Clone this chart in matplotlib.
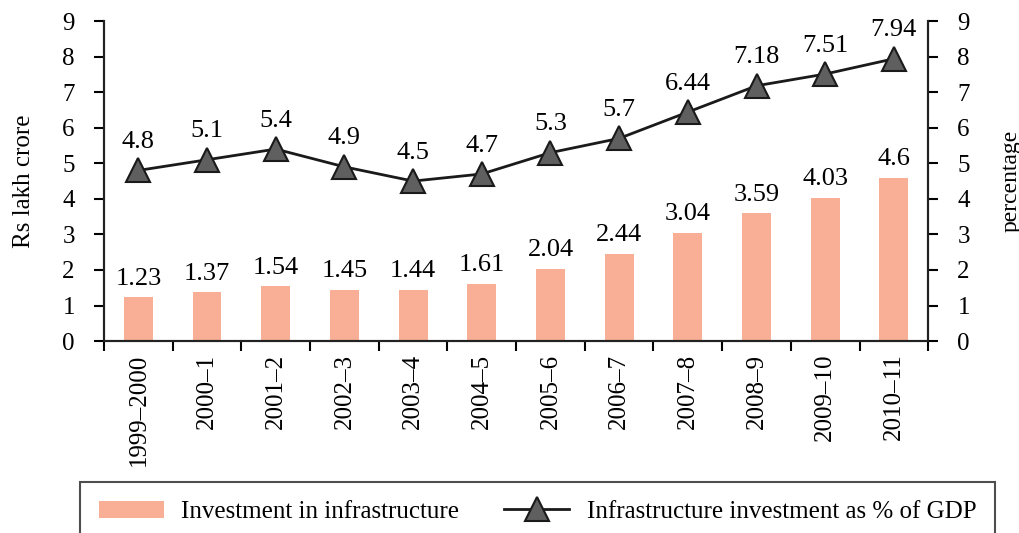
import numpy as np
import matplotlib.pyplot as plt

plt.rcParams['font.family'] = ['Liberation Serif', 'DejaVu Serif']

years = ['1999–2000', '2000–1', '2001–2', '2002–3', '2003–4', '2004–5',
         '2005–6', '2006–7', '2007–8', '2008–9', '2009–10', '2010–11']
invest = [1.23, 1.37, 1.54, 1.45, 1.44, 1.61, 2.04, 2.44, 3.04, 3.59, 4.03, 4.6]
pct_gdp = [4.8, 5.1, 5.4, 4.9, 4.5, 4.7, 5.3, 5.7, 6.44, 7.18, 7.51, 7.94]

bar_col = '#F8AF95'
fs = 18     # ticks, legend
fs_val = 19 # value labels

fig = plt.figure(figsize=(10.2, 5.33), dpi=100)
ax = fig.add_axes([0.102, 0.360, 0.808, 0.6005])
ax2 = ax.twinx()

x = np.arange(len(years))
bars = ax.bar(x, invest, width=0.42, color=bar_col, zorder=2,
              label='Investment in infrastructure')
for xi, v in zip(x, invest):
    ax.text(xi, v + 0.53, f'{v:g}', ha='center', va='center', fontsize=fs_val)

line, = ax2.plot(x, pct_gdp, color='#1a1a1a', lw=2, marker='^', markersize=17,
                 markerfacecolor='#5f5f5f', markeredgecolor='#1a1a1a',
                 markeredgewidth=1.5, zorder=3,
                 label='Infrastructure investment as % of GDP')
for xi, v in zip(x, pct_gdp):
    ax2.text(xi, v + 0.8, f'{v:g}', ha='center', va='center', fontsize=fs_val)

for a in (ax, ax2):
    a.set_ylim(0, 9)
    a.set_yticks(range(10))
    a.set_xlim(-0.5, len(years) - 0.5)
    a.spines['top'].set_visible(False)
    for s in a.spines.values():
        s.set_linewidth(1.5)
        s.set_color('#222222')
    a.tick_params(axis='y', labelsize=fs, length=7, width=1.5, direction='out', pad=14)

ax.set_xticks(x)
ax.set_xticklabels(years, rotation=90, fontsize=fs)
ax.set_xticks(np.arange(-0.5, len(years)), minor=True)
ax.tick_params(axis='x', which='major', length=0, pad=9)
ax.tick_params(axis='x', which='minor', length=7, width=1.5, direction='out')

ax.set_ylabel('Rs lakh crore', fontsize=18)
ax.yaxis.set_label_coords(-0.084, 0.5)
ax2.set_ylabel('percentage', fontsize=17, rotation=90)
ax2.yaxis.set_label_coords(1.088, 0.5)

leg = fig.legend(handles=[bars, line], loc='upper center', ncol=2,
                 bbox_to_anchor=(0.527, 0.096), borderaxespad=0, fontsize=fs,
                 frameon=True, fancybox=False, edgecolor='#222222',
                 borderpad=0.75, columnspacing=1.8, handlelength=2.6,
                 handletextpad=0.7)
leg.get_frame().set_linewidth(1.5)

fig.savefig('out.png', dpi=100)
